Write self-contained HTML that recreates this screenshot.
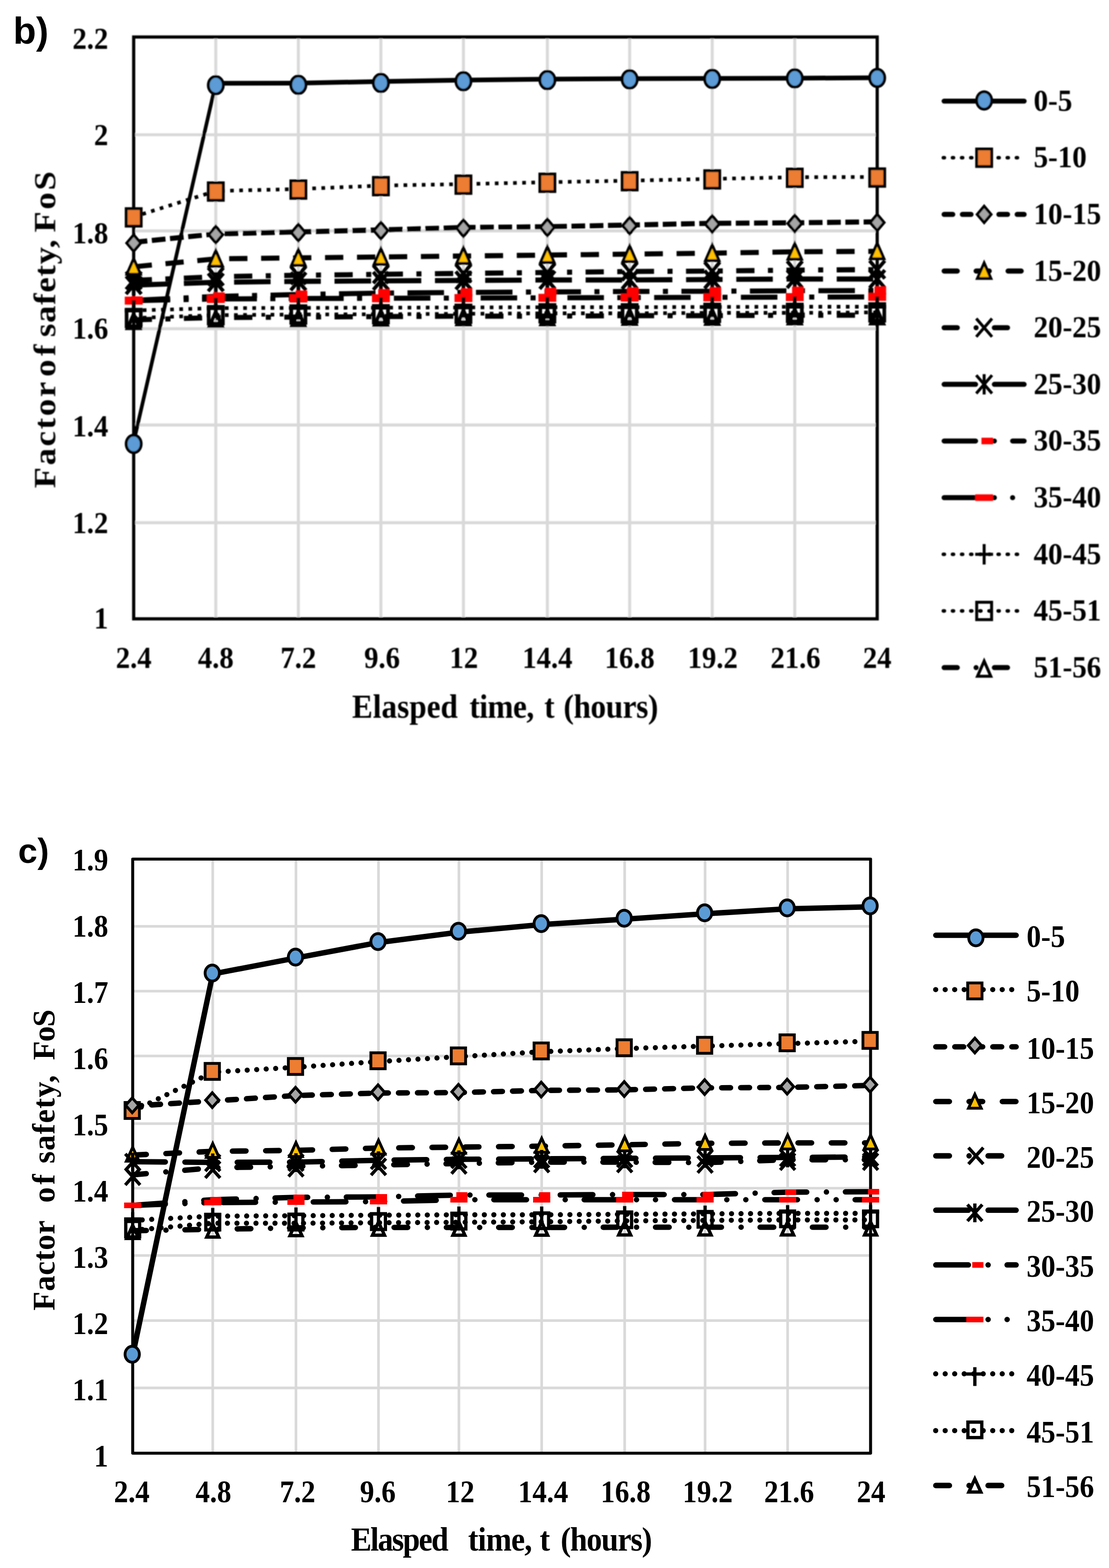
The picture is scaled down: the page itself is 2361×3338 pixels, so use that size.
<!DOCTYPE html>
<html lang="en"><head><meta charset="utf-8"><title>Factor of safety vs elapsed time</title>
<style>html,body{margin:0;padding:0;background:#fff}body{width:2361px;height:3338px;overflow:hidden}svg{display:block}</style>
</head><body>
<svg width="2361" height="3338" viewBox="0 0 2361 3338">
<defs><filter id="soft" x="-2%" y="-2%" width="104%" height="104%"><feGaussianBlur stdDeviation="1.1"/></filter></defs>
<rect width="2361" height="3338" fill="#fff"/>
<text transform="translate(28 92.5)" font-family="'Liberation Sans',sans-serif" font-weight="bold" font-size="80" text-anchor="start">b)</text>
<g id="chart-b" filter="url(#soft)">
<line x1="284.6" y1="286.9" x2="1867.5" y2="286.9" stroke="#d9d9d9" stroke-width="6.4"/>
<line x1="284.6" y1="491.5" x2="1867.5" y2="491.5" stroke="#d9d9d9" stroke-width="6.4"/>
<line x1="284.6" y1="699.7" x2="1867.5" y2="699.7" stroke="#d9d9d9" stroke-width="6.4"/>
<line x1="284.6" y1="904.7" x2="1867.5" y2="904.7" stroke="#d9d9d9" stroke-width="6.4"/>
<line x1="284.6" y1="1112.8" x2="1867.5" y2="1112.8" stroke="#d9d9d9" stroke-width="6.4"/>
<line x1="459.4" y1="78.8" x2="459.4" y2="1317.4" stroke="#d9d9d9" stroke-width="6.4"/>
<line x1="635.2" y1="78.8" x2="635.2" y2="1317.4" stroke="#d9d9d9" stroke-width="6.4"/>
<line x1="810.9" y1="78.8" x2="810.9" y2="1317.4" stroke="#d9d9d9" stroke-width="6.4"/>
<line x1="986.6" y1="78.8" x2="986.6" y2="1317.4" stroke="#d9d9d9" stroke-width="6.4"/>
<line x1="1165.3" y1="78.8" x2="1165.3" y2="1317.4" stroke="#d9d9d9" stroke-width="6.4"/>
<line x1="1340.5" y1="78.8" x2="1340.5" y2="1317.4" stroke="#d9d9d9" stroke-width="6.4"/>
<line x1="1516.3" y1="78.8" x2="1516.3" y2="1317.4" stroke="#d9d9d9" stroke-width="6.4"/>
<line x1="1692" y1="78.8" x2="1692" y2="1317.4" stroke="#d9d9d9" stroke-width="6.4"/>
<rect x="284.6" y="78.8" width="1582.9" height="1238.6" fill="none" stroke="#000" stroke-width="6.8" stroke-linejoin="miter"/>
<text transform="translate(230.5 103.8) scale(1 1.08)" font-family="'Liberation Serif',serif" font-weight="bold" font-size="61" text-anchor="end">2.2</text>
<text transform="translate(230.5 308.9) scale(1 1.08)" font-family="'Liberation Serif',serif" font-weight="bold" font-size="61" text-anchor="end">2</text>
<text transform="translate(230.5 517.5) scale(1 1.08)" font-family="'Liberation Serif',serif" font-weight="bold" font-size="61" text-anchor="end">1.8</text>
<text transform="translate(230.5 721.2) scale(1 1.08)" font-family="'Liberation Serif',serif" font-weight="bold" font-size="61" text-anchor="end">1.6</text>
<text transform="translate(230.5 929.2) scale(1 1.08)" font-family="'Liberation Serif',serif" font-weight="bold" font-size="61" text-anchor="end">1.4</text>
<text transform="translate(230.5 1134.8) scale(1 1.08)" font-family="'Liberation Serif',serif" font-weight="bold" font-size="61" text-anchor="end">1.2</text>
<text transform="translate(230.5 1338.4) scale(1 1.08)" font-family="'Liberation Serif',serif" font-weight="bold" font-size="61" text-anchor="end">1</text>
<text transform="translate(284.6 1422) scale(1 1.08)" font-family="'Liberation Serif',serif" font-weight="bold" font-size="61" text-anchor="middle">2.4</text>
<text transform="translate(459.4 1422) scale(1 1.08)" font-family="'Liberation Serif',serif" font-weight="bold" font-size="61" text-anchor="middle">4.8</text>
<text transform="translate(635.2 1422) scale(1 1.08)" font-family="'Liberation Serif',serif" font-weight="bold" font-size="61" text-anchor="middle">7.2</text>
<text transform="translate(813.4 1422) scale(1 1.08)" font-family="'Liberation Serif',serif" font-weight="bold" font-size="61" text-anchor="middle">9.6</text>
<text transform="translate(987.6 1422) scale(1 1.08)" font-family="'Liberation Serif',serif" font-weight="bold" font-size="61" text-anchor="middle">12</text>
<text transform="translate(1165.3 1422) scale(1 1.08)" font-family="'Liberation Serif',serif" font-weight="bold" font-size="61" text-anchor="middle">14.4</text>
<text transform="translate(1340.5 1422) scale(1 1.08)" font-family="'Liberation Serif',serif" font-weight="bold" font-size="61" text-anchor="middle">16.8</text>
<text transform="translate(1517.3 1422) scale(1 1.08)" font-family="'Liberation Serif',serif" font-weight="bold" font-size="61" text-anchor="middle">19.2</text>
<text transform="translate(1693.5 1422) scale(1 1.08)" font-family="'Liberation Serif',serif" font-weight="bold" font-size="61" text-anchor="middle">21.6</text>
<text transform="translate(1867.5 1422) scale(1 1.08)" font-family="'Liberation Serif',serif" font-weight="bold" font-size="61" text-anchor="middle">24</text>
<text transform="translate(0 1528) scale(1 1.1)" font-family="'Liberation Serif',serif" font-weight="bold" font-size="66"><tspan x="749.4" letter-spacing="0.28">Elasped</tspan> <tspan x="999.4" letter-spacing="-0.8">time,</tspan> <tspan x="1158.66">t</tspan> <tspan x="1199.8" letter-spacing="-0.59">(hours)</tspan></text>
<text transform="translate(117.5 0) rotate(-90) scale(1.1 1)" font-family="'Liberation Serif',serif" font-weight="bold" font-size="66.5"><tspan x="-944.73" letter-spacing="3.5">Factor</tspan> <tspan x="-729.18" letter-spacing="6.94">of</tspan> <tspan x="-652.27" letter-spacing="1.58">safety,</tspan> <tspan x="-449.82" letter-spacing="3.8">FoS</tspan></text>
<line x1="284.6" y1="941" x2="459.4" y2="177.3" stroke="#000" stroke-width="7.8" stroke-linecap="round"/>
<polyline points="459.4,177.3 635.2,177 810.9,173.5 986.6,170.5 1165.3,168.5 1340.5,167.5 1516.3,167 1692,166.5 1867.5,165.5" fill="none" stroke="#000" stroke-width="10" stroke-linecap="butt" stroke-linejoin="round"/>
<ellipse cx="284.6" cy="945" rx="16" ry="18.65" fill="#5b9bd5" stroke="#000" stroke-width="6"/>
<ellipse cx="459.4" cy="181.3" rx="16" ry="18.65" fill="#5b9bd5" stroke="#000" stroke-width="6"/>
<ellipse cx="635.2" cy="180.5" rx="16" ry="18.65" fill="#5b9bd5" stroke="#000" stroke-width="6"/>
<ellipse cx="810.9" cy="176.5" rx="16" ry="18.65" fill="#5b9bd5" stroke="#000" stroke-width="6"/>
<ellipse cx="986.6" cy="173" rx="16" ry="18.65" fill="#5b9bd5" stroke="#000" stroke-width="6"/>
<ellipse cx="1165.3" cy="170.5" rx="16" ry="18.65" fill="#5b9bd5" stroke="#000" stroke-width="6"/>
<ellipse cx="1340.5" cy="169" rx="16" ry="18.65" fill="#5b9bd5" stroke="#000" stroke-width="6"/>
<ellipse cx="1516.3" cy="168" rx="16" ry="18.65" fill="#5b9bd5" stroke="#000" stroke-width="6"/>
<ellipse cx="1692" cy="166.8" rx="16" ry="18.65" fill="#5b9bd5" stroke="#000" stroke-width="6"/>
<ellipse cx="1867.5" cy="165.8" rx="16" ry="18.65" fill="#5b9bd5" stroke="#000" stroke-width="6"/>
<polyline points="284.6,461.6 459.4,406.6 635.2,402.4 810.9,395.1 986.6,391.9 1165.3,387.9 1340.5,384.6 1516.3,380.8 1692,377.3 1867.5,376.8" fill="none" stroke="#000" stroke-width="7.8" stroke-linecap="butt" stroke-linejoin="round" stroke-dasharray="7.8 11.64"/>
<rect x="268.6" y="444.15" width="32" height="37.3" fill="#ed7d31" stroke="#000" stroke-width="6"/>
<rect x="443.4" y="389.15" width="32" height="37.3" fill="#ed7d31" stroke="#000" stroke-width="6"/>
<rect x="619.2" y="384.95" width="32" height="37.3" fill="#ed7d31" stroke="#000" stroke-width="6"/>
<rect x="794.9" y="377.65" width="32" height="37.3" fill="#ed7d31" stroke="#000" stroke-width="6"/>
<rect x="970.6" y="374.45" width="32" height="37.3" fill="#ed7d31" stroke="#000" stroke-width="6"/>
<rect x="1149.3" y="370.45" width="32" height="37.3" fill="#ed7d31" stroke="#000" stroke-width="6"/>
<rect x="1324.5" y="367.15" width="32" height="37.3" fill="#ed7d31" stroke="#000" stroke-width="6"/>
<rect x="1500.3" y="363.35" width="32" height="37.3" fill="#ed7d31" stroke="#000" stroke-width="6"/>
<rect x="1676" y="359.85" width="32" height="37.3" fill="#ed7d31" stroke="#000" stroke-width="6"/>
<rect x="1851.5" y="359.35" width="32" height="37.3" fill="#ed7d31" stroke="#000" stroke-width="6"/>
<polyline points="284.6,515.9 459.4,497.9 635.2,493.7 810.9,489.5 986.6,484.3 1165.3,482.7 1340.5,479 1516.3,475.4 1692,474.3 1867.5,472.2" fill="none" stroke="#000" stroke-width="10.8" stroke-linecap="butt" stroke-linejoin="round" stroke-dasharray="29.16 9.72"/>
<polygon points="284.6,499.95 299.4,517.4 284.6,534.85 269.8,517.4" fill="#a5a5a5" stroke="#000" stroke-width="6" stroke-linejoin="miter"/>
<polygon points="459.4,481.95 474.2,499.4 459.4,516.85 444.6,499.4" fill="#a5a5a5" stroke="#000" stroke-width="6" stroke-linejoin="miter"/>
<polygon points="635.2,477.75 650,495.2 635.2,512.65 620.4,495.2" fill="#a5a5a5" stroke="#000" stroke-width="6" stroke-linejoin="miter"/>
<polygon points="810.9,473.55 825.7,491 810.9,508.45 796.1,491" fill="#a5a5a5" stroke="#000" stroke-width="6" stroke-linejoin="miter"/>
<polygon points="986.6,468.35 1001.4,485.8 986.6,503.25 971.8,485.8" fill="#a5a5a5" stroke="#000" stroke-width="6" stroke-linejoin="miter"/>
<polygon points="1165.3,466.75 1180.1,484.2 1165.3,501.65 1150.5,484.2" fill="#a5a5a5" stroke="#000" stroke-width="6" stroke-linejoin="miter"/>
<polygon points="1340.5,463.05 1355.3,480.5 1340.5,497.95 1325.7,480.5" fill="#a5a5a5" stroke="#000" stroke-width="6" stroke-linejoin="miter"/>
<polygon points="1516.3,459.45 1531.1,476.9 1516.3,494.35 1501.5,476.9" fill="#a5a5a5" stroke="#000" stroke-width="6" stroke-linejoin="miter"/>
<polygon points="1692,458.35 1706.8,475.8 1692,493.25 1677.2,475.8" fill="#a5a5a5" stroke="#000" stroke-width="6" stroke-linejoin="miter"/>
<polygon points="1867.5,456.25 1882.3,473.7 1867.5,491.15 1852.7,473.7" fill="#a5a5a5" stroke="#000" stroke-width="6" stroke-linejoin="miter"/>
<polyline points="284.6,568 459.4,551 635.2,549 810.9,547 986.6,545 1165.3,543 1340.5,541 1516.3,539 1692,536 1867.5,535" fill="none" stroke="#000" stroke-width="10.8" stroke-linecap="butt" stroke-linejoin="round" stroke-dasharray="38.88 29.16"/>
<polygon points="284.6,550.82 299.01,583.65 270.19,583.65" fill="#ffc000" stroke="#000" stroke-width="6" stroke-linejoin="miter" stroke-miterlimit="10"/>
<polygon points="459.4,533.82 473.81,566.65 444.99,566.65" fill="#ffc000" stroke="#000" stroke-width="6" stroke-linejoin="miter" stroke-miterlimit="10"/>
<polygon points="635.2,531.82 649.61,564.65 620.79,564.65" fill="#ffc000" stroke="#000" stroke-width="6" stroke-linejoin="miter" stroke-miterlimit="10"/>
<polygon points="810.9,529.82 825.31,562.65 796.49,562.65" fill="#ffc000" stroke="#000" stroke-width="6" stroke-linejoin="miter" stroke-miterlimit="10"/>
<polygon points="986.6,527.82 1001.01,560.65 972.19,560.65" fill="#ffc000" stroke="#000" stroke-width="6" stroke-linejoin="miter" stroke-miterlimit="10"/>
<polygon points="1165.3,525.82 1179.71,558.65 1150.89,558.65" fill="#ffc000" stroke="#000" stroke-width="6" stroke-linejoin="miter" stroke-miterlimit="10"/>
<polygon points="1340.5,523.82 1354.91,556.65 1326.09,556.65" fill="#ffc000" stroke="#000" stroke-width="6" stroke-linejoin="miter" stroke-miterlimit="10"/>
<polygon points="1516.3,521.82 1530.71,554.65 1501.89,554.65" fill="#ffc000" stroke="#000" stroke-width="6" stroke-linejoin="miter" stroke-miterlimit="10"/>
<polygon points="1692,518.82 1706.41,551.65 1677.59,551.65" fill="#ffc000" stroke="#000" stroke-width="6" stroke-linejoin="miter" stroke-miterlimit="10"/>
<polygon points="1867.5,517.82 1881.91,550.65 1853.09,550.65" fill="#ffc000" stroke="#000" stroke-width="6" stroke-linejoin="miter" stroke-miterlimit="10"/>
<polyline points="284.6,597 459.4,589 635.2,586 810.9,584 986.6,582 1165.3,580 1340.5,578 1516.3,577 1692,575 1867.5,574" fill="none" stroke="#000" stroke-width="10.8" stroke-linecap="butt" stroke-linejoin="round" stroke-dasharray="38.88 28.62 10.8 28.62"/>
<path d="M268.33 578.08L300.87 615.92M268.33 615.92L300.87 578.08" fill="none" stroke="#000" stroke-width="7.8" stroke-linecap="butt"/>
<path d="M443.13 570.08L475.67 607.92M443.13 607.92L475.67 570.08" fill="none" stroke="#000" stroke-width="7.8" stroke-linecap="butt"/>
<path d="M618.93 567.08L651.47 604.92M618.93 604.92L651.47 567.08" fill="none" stroke="#000" stroke-width="7.8" stroke-linecap="butt"/>
<path d="M794.63 565.08L827.17 602.92M794.63 602.92L827.17 565.08" fill="none" stroke="#000" stroke-width="7.8" stroke-linecap="butt"/>
<path d="M970.33 563.08L1002.87 600.92M970.33 600.92L1002.87 563.08" fill="none" stroke="#000" stroke-width="7.8" stroke-linecap="butt"/>
<path d="M1149.03 561.08L1181.57 598.92M1149.03 598.92L1181.57 561.08" fill="none" stroke="#000" stroke-width="7.8" stroke-linecap="butt"/>
<path d="M1324.23 559.08L1356.77 596.92M1324.23 596.92L1356.77 559.08" fill="none" stroke="#000" stroke-width="7.8" stroke-linecap="butt"/>
<path d="M1500.03 558.08L1532.57 595.92M1500.03 595.92L1532.57 558.08" fill="none" stroke="#000" stroke-width="7.8" stroke-linecap="butt"/>
<path d="M1675.73 556.08L1708.27 593.92M1675.73 593.92L1708.27 556.08" fill="none" stroke="#000" stroke-width="7.8" stroke-linecap="butt"/>
<path d="M1851.23 555.08L1883.77 592.92M1851.23 592.92L1883.77 555.08" fill="none" stroke="#000" stroke-width="7.8" stroke-linecap="butt"/>
<polyline points="284.6,607 459.4,601 635.2,599 810.9,598 986.6,597 1165.3,596 1340.5,596 1516.3,595 1692,594 1867.5,594" fill="none" stroke="#000" stroke-width="10.8" stroke-linecap="butt" stroke-linejoin="round" stroke-dasharray="77.76 29.16"/>
<path d="M268.33 588.08L300.87 625.92M268.33 625.92L300.87 588.08M284.6 585.35L284.6 628.65" fill="none" stroke="#000" stroke-width="7.8" stroke-linecap="butt"/>
<path d="M443.13 582.08L475.67 619.92M443.13 619.92L475.67 582.08M459.4 579.35L459.4 622.65" fill="none" stroke="#000" stroke-width="7.8" stroke-linecap="butt"/>
<path d="M618.93 580.08L651.47 617.92M618.93 617.92L651.47 580.08M635.2 577.35L635.2 620.65" fill="none" stroke="#000" stroke-width="7.8" stroke-linecap="butt"/>
<path d="M794.63 579.08L827.17 616.92M794.63 616.92L827.17 579.08M810.9 576.35L810.9 619.65" fill="none" stroke="#000" stroke-width="7.8" stroke-linecap="butt"/>
<path d="M970.33 578.08L1002.87 615.92M970.33 615.92L1002.87 578.08M986.6 575.35L986.6 618.65" fill="none" stroke="#000" stroke-width="7.8" stroke-linecap="butt"/>
<path d="M1149.03 577.08L1181.57 614.92M1149.03 614.92L1181.57 577.08M1165.3 574.35L1165.3 617.65" fill="none" stroke="#000" stroke-width="7.8" stroke-linecap="butt"/>
<path d="M1324.23 577.08L1356.77 614.92M1324.23 614.92L1356.77 577.08M1340.5 574.35L1340.5 617.65" fill="none" stroke="#000" stroke-width="7.8" stroke-linecap="butt"/>
<path d="M1500.03 576.08L1532.57 613.92M1500.03 613.92L1532.57 576.08M1516.3 573.35L1516.3 616.65" fill="none" stroke="#000" stroke-width="7.8" stroke-linecap="butt"/>
<path d="M1675.73 575.08L1708.27 612.92M1675.73 612.92L1708.27 575.08M1692 572.35L1692 615.65" fill="none" stroke="#000" stroke-width="7.8" stroke-linecap="butt"/>
<path d="M1851.23 575.08L1883.77 612.92M1851.23 612.92L1883.77 575.08M1867.5 572.35L1867.5 615.65" fill="none" stroke="#000" stroke-width="7.8" stroke-linecap="butt"/>
<polyline points="284.6,639.5 459.4,631 635.2,627 810.9,624 986.6,622.5 1165.3,621.5 1340.5,620.5 1516.3,620 1692,619 1867.5,618.5" fill="none" stroke="#000" stroke-width="10.8" stroke-linecap="butt" stroke-linejoin="round" stroke-dasharray="77.76 28.62 10.8 28.62"/>
<rect x="278.9" y="631" width="24.7" height="17" fill="#ff0000"/>
<rect x="453.7" y="622.5" width="24.7" height="17" fill="#ff0000"/>
<rect x="629.5" y="618.5" width="24.7" height="17" fill="#ff0000"/>
<rect x="805.2" y="615.5" width="24.7" height="17" fill="#ff0000"/>
<rect x="980.9" y="614" width="24.7" height="17" fill="#ff0000"/>
<rect x="1159.6" y="613" width="24.7" height="17" fill="#ff0000"/>
<rect x="1334.8" y="612" width="24.7" height="17" fill="#ff0000"/>
<rect x="1510.6" y="611.5" width="24.7" height="17" fill="#ff0000"/>
<rect x="1686.3" y="610.5" width="24.7" height="17" fill="#ff0000"/>
<rect x="1861.8" y="610" width="24.7" height="17" fill="#ff0000"/>
<polyline points="284.6,640 459.4,636.5 635.2,635.5 810.9,635 986.6,634.5 1165.3,634 1340.5,633.5 1516.3,633 1692,632.5 1867.5,632" fill="none" stroke="#000" stroke-width="10.8" stroke-linecap="butt" stroke-linejoin="round" stroke-dasharray="77.76 28.44 10.8 28.44 10.8 28.44"/>
<rect x="265.6" y="631.5" width="38" height="17" fill="#ff0000"/>
<rect x="440.4" y="628" width="38" height="17" fill="#ff0000"/>
<rect x="616.2" y="627" width="38" height="17" fill="#ff0000"/>
<rect x="791.9" y="626.5" width="38" height="17" fill="#ff0000"/>
<rect x="967.6" y="626" width="38" height="17" fill="#ff0000"/>
<rect x="1146.3" y="625.5" width="38" height="17" fill="#ff0000"/>
<rect x="1321.5" y="625" width="38" height="17" fill="#ff0000"/>
<rect x="1497.3" y="624.5" width="38" height="17" fill="#ff0000"/>
<rect x="1673" y="624" width="38" height="17" fill="#ff0000"/>
<rect x="1848.5" y="623.5" width="38" height="17" fill="#ff0000"/>
<polyline points="284.6,661 459.4,656 635.2,655.5 810.9,655 986.6,654.5 1165.3,654 1340.5,654 1516.3,653.5 1692,653 1867.5,653" fill="none" stroke="#000" stroke-width="7.8" stroke-linecap="butt" stroke-linejoin="round" stroke-dasharray="7.8 11.64"/>
<path d="M265.6 661L303.6 661M284.6 639.35L284.6 682.65" fill="none" stroke="#000" stroke-width="7.8"/>
<path d="M440.4 656L478.4 656M459.4 634.35L459.4 677.65" fill="none" stroke="#000" stroke-width="7.8"/>
<path d="M616.2 655.5L654.2 655.5M635.2 633.85L635.2 677.15" fill="none" stroke="#000" stroke-width="7.8"/>
<path d="M791.9 655L829.9 655M810.9 633.35L810.9 676.65" fill="none" stroke="#000" stroke-width="7.8"/>
<path d="M967.6 654.5L1005.6 654.5M986.6 632.85L986.6 676.15" fill="none" stroke="#000" stroke-width="7.8"/>
<path d="M1146.3 654L1184.3 654M1165.3 632.35L1165.3 675.65" fill="none" stroke="#000" stroke-width="7.8"/>
<path d="M1321.5 654L1359.5 654M1340.5 632.35L1340.5 675.65" fill="none" stroke="#000" stroke-width="7.8"/>
<path d="M1497.3 653.5L1535.3 653.5M1516.3 631.85L1516.3 675.15" fill="none" stroke="#000" stroke-width="7.8"/>
<path d="M1673 653L1711 653M1692 631.35L1692 674.65" fill="none" stroke="#000" stroke-width="7.8"/>
<path d="M1848.5 653L1886.5 653M1867.5 631.35L1867.5 674.65" fill="none" stroke="#000" stroke-width="7.8"/>
<polyline points="284.6,677 459.4,671 635.2,669.5 810.9,669 986.6,668 1165.3,667 1340.5,667 1516.3,666 1692,666 1867.5,665" fill="none" stroke="#000" stroke-width="7.8" stroke-linecap="butt" stroke-linejoin="round" stroke-dasharray="7.8 11.64"/>
<rect x="269.5" y="659.25" width="30.2" height="35.5" fill="none" stroke="#000" stroke-width="7.8"/>
<rect x="444.3" y="653.25" width="30.2" height="35.5" fill="none" stroke="#000" stroke-width="7.8"/>
<rect x="620.1" y="651.75" width="30.2" height="35.5" fill="none" stroke="#000" stroke-width="7.8"/>
<rect x="795.8" y="651.25" width="30.2" height="35.5" fill="none" stroke="#000" stroke-width="7.8"/>
<rect x="971.5" y="650.25" width="30.2" height="35.5" fill="none" stroke="#000" stroke-width="7.8"/>
<rect x="1150.2" y="649.25" width="30.2" height="35.5" fill="none" stroke="#000" stroke-width="7.8"/>
<rect x="1325.4" y="649.25" width="30.2" height="35.5" fill="none" stroke="#000" stroke-width="7.8"/>
<rect x="1501.2" y="648.25" width="30.2" height="35.5" fill="none" stroke="#000" stroke-width="7.8"/>
<rect x="1676.9" y="648.25" width="30.2" height="35.5" fill="none" stroke="#000" stroke-width="7.8"/>
<rect x="1852.4" y="647.25" width="30.2" height="35.5" fill="none" stroke="#000" stroke-width="7.8"/>
<polyline points="284.6,681 459.4,676 635.2,675 810.9,674 986.6,673 1165.3,673 1340.5,672 1516.3,672 1692,671 1867.5,671" fill="none" stroke="#000" stroke-width="10.8" stroke-linecap="butt" stroke-linejoin="round" stroke-dasharray="38.88 28.62 10.8 28.62"/>
<polygon points="284.6,669.06 297.63,698.75 271.57,698.75" fill="none" stroke="#000" stroke-width="7.8" stroke-linejoin="miter" stroke-miterlimit="10"/>
<polygon points="459.4,664.06 472.43,693.75 446.37,693.75" fill="none" stroke="#000" stroke-width="7.8" stroke-linejoin="miter" stroke-miterlimit="10"/>
<polygon points="635.2,663.06 648.23,692.75 622.17,692.75" fill="none" stroke="#000" stroke-width="7.8" stroke-linejoin="miter" stroke-miterlimit="10"/>
<polygon points="810.9,662.06 823.93,691.75 797.87,691.75" fill="none" stroke="#000" stroke-width="7.8" stroke-linejoin="miter" stroke-miterlimit="10"/>
<polygon points="986.6,661.06 999.63,690.75 973.57,690.75" fill="none" stroke="#000" stroke-width="7.8" stroke-linejoin="miter" stroke-miterlimit="10"/>
<polygon points="1165.3,661.06 1178.33,690.75 1152.27,690.75" fill="none" stroke="#000" stroke-width="7.8" stroke-linejoin="miter" stroke-miterlimit="10"/>
<polygon points="1340.5,660.06 1353.53,689.75 1327.47,689.75" fill="none" stroke="#000" stroke-width="7.8" stroke-linejoin="miter" stroke-miterlimit="10"/>
<polygon points="1516.3,660.06 1529.33,689.75 1503.27,689.75" fill="none" stroke="#000" stroke-width="7.8" stroke-linejoin="miter" stroke-miterlimit="10"/>
<polygon points="1692,659.06 1705.03,688.75 1678.97,688.75" fill="none" stroke="#000" stroke-width="7.8" stroke-linejoin="miter" stroke-miterlimit="10"/>
<polygon points="1867.5,659.06 1880.53,688.75 1854.47,688.75" fill="none" stroke="#000" stroke-width="7.8" stroke-linejoin="miter" stroke-miterlimit="10"/>
<line x1="2009.85" y1="215.2" x2="2180.45" y2="215.2" stroke="#000" stroke-width="10.5" stroke-linecap="round"/>
<ellipse cx="2095.2" cy="213.8" rx="16" ry="18.65" fill="#5b9bd5" stroke="#000" stroke-width="6"/>
<text transform="translate(2200.5 235.7) scale(1 1.07)" font-family="'Liberation Serif',serif" font-weight="bold" font-size="61.7" text-anchor="start">0-5</text>
<line x1="2008.4" y1="335.8" x2="2181.9" y2="335.8" stroke="#000" stroke-width="7.6" stroke-linecap="round" stroke-dasharray="2.12 17.32"/>
<rect x="2079.2" y="317.15" width="32" height="37.3" fill="#ed7d31" stroke="#000" stroke-width="6"/>
<text transform="translate(2200.5 356.3) scale(1 1.07)" font-family="'Liberation Serif',serif" font-weight="bold" font-size="61.7" text-anchor="start">5-10</text>
<line x1="2010" y1="456.4" x2="2180.3" y2="456.4" stroke="#000" stroke-width="10.8" stroke-linecap="round" stroke-dasharray="18.36 20.52"/>
<polygon points="2095.2,438.95 2110,456.4 2095.2,473.85 2080.4,456.4" fill="#a5a5a5" stroke="#000" stroke-width="6" stroke-linejoin="miter"/>
<text transform="translate(2200.5 476.9) scale(1 1.07)" font-family="'Liberation Serif',serif" font-weight="bold" font-size="61.7" text-anchor="start">10-15</text>
<line x1="2010" y1="577" x2="2180.3" y2="577" stroke="#000" stroke-width="10.8" stroke-linecap="round" stroke-dasharray="28.08 39.96"/>
<polygon points="2095.2,559.82 2109.61,592.65 2080.79,592.65" fill="#ffc000" stroke="#000" stroke-width="6" stroke-linejoin="miter" stroke-miterlimit="10"/>
<text transform="translate(2200.5 597.5) scale(1 1.07)" font-family="'Liberation Serif',serif" font-weight="bold" font-size="61.7" text-anchor="start">15-20</text>
<line x1="2010" y1="697.6" x2="2180.3" y2="697.6" stroke="#000" stroke-width="10.8" stroke-linecap="round" stroke-dasharray="28.08 39.96 0.01 38.87"/>
<path d="M2078.4 678.15L2111.99 717.04M2078.4 717.04L2111.99 678.15" fill="none" stroke="#000" stroke-width="6.3" stroke-linecap="butt"/>
<text transform="translate(2200.5 718.1) scale(1 1.07)" font-family="'Liberation Serif',serif" font-weight="bold" font-size="61.7" text-anchor="start">20-25</text>
<line x1="2010" y1="818.2" x2="2180.3" y2="818.2" stroke="#000" stroke-width="10.8" stroke-linecap="round" stroke-dasharray="66.96 39.96"/>
<path d="M2078.4 798.76L2111.99 837.64M2078.4 837.64L2111.99 798.76M2095.2 796.55L2095.2 839.85" fill="none" stroke="#000" stroke-width="6.3" stroke-linecap="butt"/>
<text transform="translate(2200.5 838.7) scale(1 1.07)" font-family="'Liberation Serif',serif" font-weight="bold" font-size="61.7" text-anchor="start">25-30</text>
<line x1="2010" y1="938.8" x2="2180.3" y2="938.8" stroke="#000" stroke-width="10.8" stroke-linecap="round" stroke-dasharray="66.96 39.96 0.01 38.87"/>
<rect x="2089.5" y="931.8" width="24.7" height="14" fill="#ff0000"/>
<text transform="translate(2200.5 959.3) scale(1 1.07)" font-family="'Liberation Serif',serif" font-weight="bold" font-size="61.7" text-anchor="start">30-35</text>
<line x1="2010" y1="1059.4" x2="2180.3" y2="1059.4" stroke="#000" stroke-width="10.8" stroke-linecap="round" stroke-dasharray="66.96 39.96 0.01 38.87 0.01 38.87"/>
<rect x="2076.2" y="1052.4" width="38" height="14" fill="#ff0000"/>
<text transform="translate(2200.5 1079.9) scale(1 1.07)" font-family="'Liberation Serif',serif" font-weight="bold" font-size="61.7" text-anchor="start">35-40</text>
<line x1="2008.4" y1="1180" x2="2181.9" y2="1180" stroke="#000" stroke-width="7.6" stroke-linecap="round" stroke-dasharray="2.12 17.32"/>
<path d="M2076.2 1180L2114.2 1180M2095.2 1158.35L2095.2 1201.65" fill="none" stroke="#000" stroke-width="6.3"/>
<text transform="translate(2200.5 1200.5) scale(1 1.07)" font-family="'Liberation Serif',serif" font-weight="bold" font-size="61.7" text-anchor="start">40-45</text>
<line x1="2008.4" y1="1300.6" x2="2181.9" y2="1300.6" stroke="#000" stroke-width="7.6" stroke-linecap="round" stroke-dasharray="2.12 17.32"/>
<rect x="2079.35" y="1282.1" width="31.7" height="37" fill="none" stroke="#000" stroke-width="6.3"/>
<text transform="translate(2200.5 1321.1) scale(1 1.07)" font-family="'Liberation Serif',serif" font-weight="bold" font-size="61.7" text-anchor="start">45-51</text>
<line x1="2010" y1="1421.2" x2="2180.3" y2="1421.2" stroke="#000" stroke-width="10.8" stroke-linecap="round" stroke-dasharray="28.08 39.96 0.01 38.87"/>
<polygon points="2095.2,1407.39 2109.38,1439.7 2081.02,1439.7" fill="none" stroke="#000" stroke-width="6.3" stroke-linejoin="miter" stroke-miterlimit="10"/>
<text transform="translate(2200.5 1441.7) scale(1 1.07)" font-family="'Liberation Serif',serif" font-weight="bold" font-size="61.7" text-anchor="start">51-56</text>
</g>
<text transform="translate(38.6 1837.4)" font-family="'Liberation Sans',sans-serif" font-weight="bold" font-size="74" text-anchor="start">c)</text>
<g id="chart-c">
<line x1="282.5" y1="1972" x2="1853.4" y2="1972" stroke="#d9d9d9" stroke-width="5.6"/>
<line x1="282.5" y1="2110" x2="1853.4" y2="2110" stroke="#d9d9d9" stroke-width="5.6"/>
<line x1="282.5" y1="2248" x2="1853.4" y2="2248" stroke="#d9d9d9" stroke-width="5.6"/>
<line x1="282.5" y1="2392" x2="1853.4" y2="2392" stroke="#d9d9d9" stroke-width="5.6"/>
<line x1="282.5" y1="2529.5" x2="1853.4" y2="2529.5" stroke="#d9d9d9" stroke-width="5.6"/>
<line x1="282.5" y1="2672.8" x2="1853.4" y2="2672.8" stroke="#d9d9d9" stroke-width="5.6"/>
<line x1="282.5" y1="2811.3" x2="1853.4" y2="2811.3" stroke="#d9d9d9" stroke-width="5.6"/>
<line x1="282.5" y1="2954.6" x2="1853.4" y2="2954.6" stroke="#d9d9d9" stroke-width="5.6"/>
<line x1="452.9" y1="1828.8" x2="452.9" y2="3093.6" stroke="#d9d9d9" stroke-width="5.6"/>
<line x1="630.1" y1="1828.8" x2="630.1" y2="3093.6" stroke="#d9d9d9" stroke-width="5.6"/>
<line x1="805.8" y1="1828.8" x2="805.8" y2="3093.6" stroke="#d9d9d9" stroke-width="5.6"/>
<line x1="977" y1="1828.8" x2="977" y2="3093.6" stroke="#d9d9d9" stroke-width="5.6"/>
<line x1="1153.2" y1="1828.8" x2="1153.2" y2="3093.6" stroke="#d9d9d9" stroke-width="5.6"/>
<line x1="1329.9" y1="1828.8" x2="1329.9" y2="3093.6" stroke="#d9d9d9" stroke-width="5.6"/>
<line x1="1501.1" y1="1828.8" x2="1501.1" y2="3093.6" stroke="#d9d9d9" stroke-width="5.6"/>
<line x1="1676.8" y1="1828.8" x2="1676.8" y2="3093.6" stroke="#d9d9d9" stroke-width="5.6"/>
<rect x="282.5" y="1828.8" width="1570.9" height="1264.8" fill="none" stroke="#000" stroke-width="6.3" stroke-linejoin="round"/>
<text transform="translate(230.5 1853.2) scale(1 1.12)" font-family="'Liberation Serif',serif" font-weight="bold" font-size="61" text-anchor="end">1.9</text>
<text transform="translate(230.5 1994.2) scale(1 1.12)" font-family="'Liberation Serif',serif" font-weight="bold" font-size="61" text-anchor="end">1.8</text>
<text transform="translate(230.5 2135.2) scale(1 1.12)" font-family="'Liberation Serif',serif" font-weight="bold" font-size="61" text-anchor="end">1.7</text>
<text transform="translate(230.5 2276.2) scale(1 1.12)" font-family="'Liberation Serif',serif" font-weight="bold" font-size="61" text-anchor="end">1.6</text>
<text transform="translate(230.5 2417.2) scale(1 1.12)" font-family="'Liberation Serif',serif" font-weight="bold" font-size="61" text-anchor="end">1.5</text>
<text transform="translate(230.5 2558.2) scale(1 1.12)" font-family="'Liberation Serif',serif" font-weight="bold" font-size="61" text-anchor="end">1.4</text>
<text transform="translate(230.5 2699.2) scale(1 1.12)" font-family="'Liberation Serif',serif" font-weight="bold" font-size="61" text-anchor="end">1.3</text>
<text transform="translate(230.5 2840.2) scale(1 1.12)" font-family="'Liberation Serif',serif" font-weight="bold" font-size="61" text-anchor="end">1.2</text>
<text transform="translate(230.5 2981.2) scale(1 1.12)" font-family="'Liberation Serif',serif" font-weight="bold" font-size="61" text-anchor="end">1.1</text>
<text transform="translate(230.5 3122.2) scale(1 1.12)" font-family="'Liberation Serif',serif" font-weight="bold" font-size="61" text-anchor="end">1</text>
<text transform="translate(280.5 3198) scale(1 1.12)" font-family="'Liberation Serif',serif" font-weight="bold" font-size="61" text-anchor="middle">2.4</text>
<text transform="translate(454.3 3198) scale(1 1.12)" font-family="'Liberation Serif',serif" font-weight="bold" font-size="61" text-anchor="middle">4.8</text>
<text transform="translate(633.5 3198) scale(1 1.12)" font-family="'Liberation Serif',serif" font-weight="bold" font-size="61" text-anchor="middle">7.2</text>
<text transform="translate(804.4 3198) scale(1 1.12)" font-family="'Liberation Serif',serif" font-weight="bold" font-size="61" text-anchor="middle">9.6</text>
<text transform="translate(979.8 3198) scale(1 1.12)" font-family="'Liberation Serif',serif" font-weight="bold" font-size="61" text-anchor="middle">12</text>
<text transform="translate(1156.4 3198) scale(1 1.12)" font-family="'Liberation Serif',serif" font-weight="bold" font-size="61" text-anchor="middle">14.4</text>
<text transform="translate(1332 3198) scale(1 1.12)" font-family="'Liberation Serif',serif" font-weight="bold" font-size="61" text-anchor="middle">16.8</text>
<text transform="translate(1506.6 3198) scale(1 1.12)" font-family="'Liberation Serif',serif" font-weight="bold" font-size="61" text-anchor="middle">19.2</text>
<text transform="translate(1680 3198) scale(1 1.12)" font-family="'Liberation Serif',serif" font-weight="bold" font-size="61" text-anchor="middle">21.6</text>
<text transform="translate(1854.6 3198) scale(1 1.12)" font-family="'Liberation Serif',serif" font-weight="bold" font-size="61" text-anchor="middle">24</text>
<text transform="translate(0 3300.5) scale(1 1.1)" font-family="'Liberation Serif',serif" font-weight="bold" font-size="66"><tspan x="747.2" letter-spacing="-2.66">Elasped</tspan> <tspan x="996.4" letter-spacing="-1.13">time,</tspan> <tspan x="1149.01">t</tspan> <tspan x="1193.4" letter-spacing="-1.69">(hours)</tspan></text>
<text transform="translate(116 0) rotate(-90) scale(1 1)" font-family="'Liberation Serif',serif" font-weight="bold" font-size="66.6"><tspan x="-2790" letter-spacing="0.68">Factor</tspan> <tspan x="-2560.6" letter-spacing="5.56">of</tspan> <tspan x="-2476.8" letter-spacing="1.48">safety,</tspan> <tspan x="-2256.8" letter-spacing="-1.61">FoS</tspan></text>
<polyline points="282.5,2885 452.9,2073.4 630.1,2039.4 805.8,2006.4 977,1984.4 1153.2,1968.2 1329.9,1956.7 1501.1,1945.2 1676.8,1934.7 1853.4,1930.5" fill="none" stroke="#000" stroke-width="11.6" stroke-linecap="round" stroke-linejoin="round"/>
<ellipse cx="281.5" cy="2883" rx="15.25" ry="17" fill="#5b9bd5" stroke="#000" stroke-width="6"/>
<ellipse cx="451.9" cy="2071.4" rx="15.25" ry="17" fill="#5b9bd5" stroke="#000" stroke-width="6"/>
<ellipse cx="629.1" cy="2037.4" rx="15.25" ry="17" fill="#5b9bd5" stroke="#000" stroke-width="6"/>
<ellipse cx="804.8" cy="2004.4" rx="15.25" ry="17" fill="#5b9bd5" stroke="#000" stroke-width="6"/>
<ellipse cx="976" cy="1982.4" rx="15.25" ry="17" fill="#5b9bd5" stroke="#000" stroke-width="6"/>
<ellipse cx="1152.2" cy="1966.2" rx="15.25" ry="17" fill="#5b9bd5" stroke="#000" stroke-width="6"/>
<ellipse cx="1328.9" cy="1954.7" rx="15.25" ry="17" fill="#5b9bd5" stroke="#000" stroke-width="6"/>
<ellipse cx="1500.1" cy="1943.2" rx="15.25" ry="17" fill="#5b9bd5" stroke="#000" stroke-width="6"/>
<ellipse cx="1675.8" cy="1932.7" rx="15.25" ry="17" fill="#5b9bd5" stroke="#000" stroke-width="6"/>
<ellipse cx="1852.4" cy="1928.5" rx="15.25" ry="17" fill="#5b9bd5" stroke="#000" stroke-width="6"/>
<polyline points="282.5,2365.7 452.9,2282.5 630.1,2272 805.8,2259.9 977,2249.5 1153.2,2239 1329.9,2232.2 1501.1,2227 1676.8,2221.7 1853.4,2216.5" fill="none" stroke="#000" stroke-width="11" stroke-linecap="round" stroke-linejoin="round" stroke-dasharray="0.01 20.23"/>
<rect x="266.25" y="2347" width="30.5" height="34" fill="#ed7d31" stroke="#000" stroke-width="6"/>
<rect x="436.65" y="2263.8" width="30.5" height="34" fill="#ed7d31" stroke="#000" stroke-width="6"/>
<rect x="613.85" y="2253.3" width="30.5" height="34" fill="#ed7d31" stroke="#000" stroke-width="6"/>
<rect x="789.55" y="2241.2" width="30.5" height="34" fill="#ed7d31" stroke="#000" stroke-width="6"/>
<rect x="960.75" y="2230.8" width="30.5" height="34" fill="#ed7d31" stroke="#000" stroke-width="6"/>
<rect x="1136.95" y="2220.3" width="30.5" height="34" fill="#ed7d31" stroke="#000" stroke-width="6"/>
<rect x="1313.65" y="2213.5" width="30.5" height="34" fill="#ed7d31" stroke="#000" stroke-width="6"/>
<rect x="1484.85" y="2208.3" width="30.5" height="34" fill="#ed7d31" stroke="#000" stroke-width="6"/>
<rect x="1660.55" y="2203" width="30.5" height="34" fill="#ed7d31" stroke="#000" stroke-width="6"/>
<rect x="1837.15" y="2197.8" width="30.5" height="34" fill="#ed7d31" stroke="#000" stroke-width="6"/>
<polyline points="282.5,2354.7 452.9,2343.7 630.1,2332.2 805.8,2326.9 977,2325.9 1153.2,2321.2 1329.9,2320.1 1501.1,2315.9 1676.8,2314.9 1853.4,2310.7" fill="none" stroke="#000" stroke-width="11.6" stroke-linecap="round" stroke-linejoin="round" stroke-dasharray="18.76 21.72"/>
<polygon points="281.5,2337.2 295.55,2353 281.5,2368.8 267.45,2353" fill="#a5a5a5" stroke="#000" stroke-width="6" stroke-linejoin="miter"/>
<polygon points="451.9,2326.2 465.95,2342 451.9,2357.8 437.85,2342" fill="#a5a5a5" stroke="#000" stroke-width="6" stroke-linejoin="miter"/>
<polygon points="629.1,2314.7 643.15,2330.5 629.1,2346.3 615.05,2330.5" fill="#a5a5a5" stroke="#000" stroke-width="6" stroke-linejoin="miter"/>
<polygon points="804.8,2309.4 818.85,2325.2 804.8,2341 790.75,2325.2" fill="#a5a5a5" stroke="#000" stroke-width="6" stroke-linejoin="miter"/>
<polygon points="976,2308.4 990.05,2324.2 976,2340 961.95,2324.2" fill="#a5a5a5" stroke="#000" stroke-width="6" stroke-linejoin="miter"/>
<polygon points="1152.2,2303.7 1166.25,2319.5 1152.2,2335.3 1138.15,2319.5" fill="#a5a5a5" stroke="#000" stroke-width="6" stroke-linejoin="miter"/>
<polygon points="1328.9,2302.6 1342.95,2318.4 1328.9,2334.2 1314.85,2318.4" fill="#a5a5a5" stroke="#000" stroke-width="6" stroke-linejoin="miter"/>
<polygon points="1500.1,2298.4 1514.15,2314.2 1500.1,2330 1486.05,2314.2" fill="#a5a5a5" stroke="#000" stroke-width="6" stroke-linejoin="miter"/>
<polygon points="1675.8,2297.4 1689.85,2313.2 1675.8,2329 1661.75,2313.2" fill="#a5a5a5" stroke="#000" stroke-width="6" stroke-linejoin="miter"/>
<polygon points="1852.4,2293.2 1866.45,2309 1852.4,2324.8 1838.35,2309" fill="#a5a5a5" stroke="#000" stroke-width="6" stroke-linejoin="miter"/>
<polyline points="282.5,2459 452.9,2451 630.1,2449 805.8,2444 977,2442 1153.2,2440 1329.9,2437 1501.1,2434 1676.8,2433 1853.4,2433" fill="none" stroke="#000" stroke-width="11.6" stroke-linecap="round" stroke-linejoin="round" stroke-dasharray="28.88 41.96"/>
<polygon points="282.5,2442.23 296.08,2472 268.92,2472" fill="#ffc000" stroke="#000" stroke-width="6" stroke-linejoin="miter" stroke-miterlimit="10"/>
<polygon points="452.9,2434.23 466.48,2464 439.32,2464" fill="#ffc000" stroke="#000" stroke-width="6" stroke-linejoin="miter" stroke-miterlimit="10"/>
<polygon points="630.1,2432.23 643.68,2462 616.52,2462" fill="#ffc000" stroke="#000" stroke-width="6" stroke-linejoin="miter" stroke-miterlimit="10"/>
<polygon points="805.8,2427.23 819.38,2457 792.22,2457" fill="#ffc000" stroke="#000" stroke-width="6" stroke-linejoin="miter" stroke-miterlimit="10"/>
<polygon points="977,2425.23 990.58,2455 963.42,2455" fill="#ffc000" stroke="#000" stroke-width="6" stroke-linejoin="miter" stroke-miterlimit="10"/>
<polygon points="1153.2,2423.23 1166.78,2453 1139.62,2453" fill="#ffc000" stroke="#000" stroke-width="6" stroke-linejoin="miter" stroke-miterlimit="10"/>
<polygon points="1329.9,2420.23 1343.48,2450 1316.32,2450" fill="#ffc000" stroke="#000" stroke-width="6" stroke-linejoin="miter" stroke-miterlimit="10"/>
<polygon points="1501.1,2417.23 1514.68,2447 1487.52,2447" fill="#ffc000" stroke="#000" stroke-width="6" stroke-linejoin="miter" stroke-miterlimit="10"/>
<polygon points="1676.8,2416.23 1690.38,2446 1663.22,2446" fill="#ffc000" stroke="#000" stroke-width="6" stroke-linejoin="miter" stroke-miterlimit="10"/>
<polygon points="1853.4,2416.23 1866.98,2446 1839.82,2446" fill="#ffc000" stroke="#000" stroke-width="6" stroke-linejoin="miter" stroke-miterlimit="10"/>
<polyline points="282.5,2501 452.9,2486 630.1,2483 805.8,2480 977,2477 1153.2,2474 1329.9,2474 1501.1,2475 1676.8,2469 1853.4,2469" fill="none" stroke="#000" stroke-width="11.6" stroke-linecap="round" stroke-linejoin="round" stroke-dasharray="28.88 41.96 0.01 40.47"/>
<path d="M266.7 2487.45L298.3 2522.55M266.7 2522.55L298.3 2487.45" fill="none" stroke="#000" stroke-width="7" stroke-linecap="butt"/>
<path d="M437.1 2472.45L468.7 2507.55M437.1 2507.55L468.7 2472.45" fill="none" stroke="#000" stroke-width="7" stroke-linecap="butt"/>
<path d="M614.3 2469.45L645.9 2504.55M614.3 2504.55L645.9 2469.45" fill="none" stroke="#000" stroke-width="7" stroke-linecap="butt"/>
<path d="M790 2466.45L821.6 2501.55M790 2501.55L821.6 2466.45" fill="none" stroke="#000" stroke-width="7" stroke-linecap="butt"/>
<path d="M961.2 2463.45L992.8 2498.55M961.2 2498.55L992.8 2463.45" fill="none" stroke="#000" stroke-width="7" stroke-linecap="butt"/>
<path d="M1137.4 2460.45L1169 2495.55M1137.4 2495.55L1169 2460.45" fill="none" stroke="#000" stroke-width="7" stroke-linecap="butt"/>
<path d="M1314.1 2460.45L1345.7 2495.55M1314.1 2495.55L1345.7 2460.45" fill="none" stroke="#000" stroke-width="7" stroke-linecap="butt"/>
<path d="M1485.3 2461.45L1516.9 2496.55M1485.3 2496.55L1516.9 2461.45" fill="none" stroke="#000" stroke-width="7" stroke-linecap="butt"/>
<path d="M1661 2455.45L1692.6 2490.55M1661 2490.55L1692.6 2455.45" fill="none" stroke="#000" stroke-width="7" stroke-linecap="butt"/>
<path d="M1837.6 2455.45L1869.2 2490.55M1837.6 2490.55L1869.2 2455.45" fill="none" stroke="#000" stroke-width="7" stroke-linecap="butt"/>
<polyline points="282.5,2473 452.9,2474.5 630.1,2474 805.8,2470 977,2468 1153.2,2467 1329.9,2466 1501.1,2465 1676.8,2464 1853.4,2463" fill="none" stroke="#000" stroke-width="11.6" stroke-linecap="round" stroke-linejoin="round" stroke-dasharray="69.36 41.96"/>
<path d="M266.7 2456.45L298.3 2491.55M266.7 2491.55L298.3 2456.45M282.5 2454L282.5 2494" fill="none" stroke="#000" stroke-width="7" stroke-linecap="butt"/>
<path d="M437.1 2457.95L468.7 2493.05M437.1 2493.05L468.7 2457.95M452.9 2455.5L452.9 2495.5" fill="none" stroke="#000" stroke-width="7" stroke-linecap="butt"/>
<path d="M614.3 2457.45L645.9 2492.55M614.3 2492.55L645.9 2457.45M630.1 2455L630.1 2495" fill="none" stroke="#000" stroke-width="7" stroke-linecap="butt"/>
<path d="M790 2453.45L821.6 2488.55M790 2488.55L821.6 2453.45M805.8 2451L805.8 2491" fill="none" stroke="#000" stroke-width="7" stroke-linecap="butt"/>
<path d="M961.2 2451.45L992.8 2486.55M961.2 2486.55L992.8 2451.45M977 2449L977 2489" fill="none" stroke="#000" stroke-width="7" stroke-linecap="butt"/>
<path d="M1137.4 2450.45L1169 2485.55M1137.4 2485.55L1169 2450.45M1153.2 2448L1153.2 2488" fill="none" stroke="#000" stroke-width="7" stroke-linecap="butt"/>
<path d="M1314.1 2449.45L1345.7 2484.55M1314.1 2484.55L1345.7 2449.45M1329.9 2447L1329.9 2487" fill="none" stroke="#000" stroke-width="7" stroke-linecap="butt"/>
<path d="M1485.3 2448.45L1516.9 2483.55M1485.3 2483.55L1516.9 2448.45M1501.1 2446L1501.1 2486" fill="none" stroke="#000" stroke-width="7" stroke-linecap="butt"/>
<path d="M1661 2447.45L1692.6 2482.55M1661 2482.55L1692.6 2447.45M1676.8 2445L1676.8 2485" fill="none" stroke="#000" stroke-width="7" stroke-linecap="butt"/>
<path d="M1837.6 2446.45L1869.2 2481.55M1837.6 2481.55L1869.2 2446.45M1853.4 2444L1853.4 2484" fill="none" stroke="#000" stroke-width="7" stroke-linecap="butt"/>
<polyline points="282.5,2566 452.9,2554 630.1,2549 805.8,2548 977,2544 1153.2,2544 1329.9,2543 1501.1,2543 1676.8,2538 1853.4,2537" fill="none" stroke="#000" stroke-width="11.6" stroke-linecap="round" stroke-linejoin="round" stroke-dasharray="69.36 41.96 0.01 40.47"/>
<rect x="277.02" y="2560" width="23.73" height="12" fill="#ff0000"/>
<rect x="447.42" y="2548" width="23.73" height="12" fill="#ff0000"/>
<rect x="624.62" y="2543" width="23.73" height="12" fill="#ff0000"/>
<rect x="800.32" y="2542" width="23.73" height="12" fill="#ff0000"/>
<rect x="971.52" y="2538" width="23.73" height="12" fill="#ff0000"/>
<rect x="1147.73" y="2538" width="23.73" height="12" fill="#ff0000"/>
<rect x="1324.43" y="2537" width="23.73" height="12" fill="#ff0000"/>
<rect x="1495.62" y="2537" width="23.73" height="12" fill="#ff0000"/>
<rect x="1671.33" y="2532" width="23.73" height="12" fill="#ff0000"/>
<rect x="1847.93" y="2531" width="23.73" height="12" fill="#ff0000"/>
<polyline points="282.5,2566 452.9,2560 630.1,2559 805.8,2558 977,2554 1153.2,2554 1329.9,2554 1501.1,2554 1676.8,2554 1853.4,2554" fill="none" stroke="#000" stroke-width="11.6" stroke-linecap="round" stroke-linejoin="round" stroke-dasharray="69.36 41.96 0.01 40.47 0.01 40.47"/>
<rect x="264.25" y="2560" width="36.5" height="12" fill="#ff0000"/>
<rect x="434.65" y="2554" width="36.5" height="12" fill="#ff0000"/>
<rect x="611.85" y="2553" width="36.5" height="12" fill="#ff0000"/>
<rect x="787.55" y="2552" width="36.5" height="12" fill="#ff0000"/>
<rect x="958.75" y="2548" width="36.5" height="12" fill="#ff0000"/>
<rect x="1134.95" y="2548" width="36.5" height="12" fill="#ff0000"/>
<rect x="1311.65" y="2548" width="36.5" height="12" fill="#ff0000"/>
<rect x="1482.85" y="2548" width="36.5" height="12" fill="#ff0000"/>
<rect x="1658.55" y="2548" width="36.5" height="12" fill="#ff0000"/>
<rect x="1835.15" y="2548" width="36.5" height="12" fill="#ff0000"/>
<polyline points="282.5,2598 452.9,2589 630.1,2588 805.8,2587 977,2586 1153.2,2586 1329.9,2585 1501.1,2584 1676.8,2583 1853.4,2583" fill="none" stroke="#000" stroke-width="11" stroke-linecap="round" stroke-linejoin="round" stroke-dasharray="0.01 20.23"/>
<path d="M264.25 2594.9L300.75 2594.9M282.5 2580.4L282.5 2620.4" fill="none" stroke="#000" stroke-width="7"/>
<path d="M434.65 2585.9L471.15 2585.9M452.9 2571.4L452.9 2611.4" fill="none" stroke="#000" stroke-width="7"/>
<path d="M611.85 2584.9L648.35 2584.9M630.1 2570.4L630.1 2610.4" fill="none" stroke="#000" stroke-width="7"/>
<path d="M787.55 2583.9L824.05 2583.9M805.8 2569.4L805.8 2609.4" fill="none" stroke="#000" stroke-width="7"/>
<path d="M958.75 2582.9L995.25 2582.9M977 2568.4L977 2608.4" fill="none" stroke="#000" stroke-width="7"/>
<path d="M1134.95 2582.9L1171.45 2582.9M1153.2 2568.4L1153.2 2608.4" fill="none" stroke="#000" stroke-width="7"/>
<path d="M1311.65 2581.9L1348.15 2581.9M1329.9 2567.4L1329.9 2607.4" fill="none" stroke="#000" stroke-width="7"/>
<path d="M1482.85 2580.9L1519.35 2580.9M1501.1 2566.4L1501.1 2606.4" fill="none" stroke="#000" stroke-width="7"/>
<path d="M1658.55 2579.9L1695.05 2579.9M1676.8 2565.4L1676.8 2605.4" fill="none" stroke="#000" stroke-width="7"/>
<path d="M1835.15 2579.9L1871.65 2579.9M1853.4 2565.4L1853.4 2605.4" fill="none" stroke="#000" stroke-width="7"/>
<polyline points="282.5,2619 452.9,2604 630.1,2604 805.8,2603 977,2602 1153.2,2601 1329.9,2599 1501.1,2598 1676.8,2597 1853.4,2597" fill="none" stroke="#000" stroke-width="11" stroke-linecap="round" stroke-linejoin="round" stroke-dasharray="0.01 20.23"/>
<rect x="267.75" y="2600.2" width="29.5" height="33" fill="none" stroke="#000" stroke-width="7"/>
<rect x="438.15" y="2585.2" width="29.5" height="33" fill="none" stroke="#000" stroke-width="7"/>
<rect x="615.35" y="2585.2" width="29.5" height="33" fill="none" stroke="#000" stroke-width="7"/>
<rect x="791.05" y="2584.2" width="29.5" height="33" fill="none" stroke="#000" stroke-width="7"/>
<rect x="962.25" y="2583.2" width="29.5" height="33" fill="none" stroke="#000" stroke-width="7"/>
<rect x="1138.45" y="2582.2" width="29.5" height="33" fill="none" stroke="#000" stroke-width="7"/>
<rect x="1315.15" y="2580.2" width="29.5" height="33" fill="none" stroke="#000" stroke-width="7"/>
<rect x="1486.35" y="2579.2" width="29.5" height="33" fill="none" stroke="#000" stroke-width="7"/>
<rect x="1662.05" y="2578.2" width="29.5" height="33" fill="none" stroke="#000" stroke-width="7"/>
<rect x="1838.65" y="2578.2" width="29.5" height="33" fill="none" stroke="#000" stroke-width="7"/>
<polyline points="282.5,2620 452.9,2617 630.1,2614 805.8,2613 977,2613 1153.2,2613 1329.9,2612.5 1501.1,2612.5 1676.8,2612.5 1853.4,2612.5" fill="none" stroke="#000" stroke-width="11.6" stroke-linecap="round" stroke-linejoin="round" stroke-dasharray="28.88 41.96 0.01 40.47"/>
<polygon points="282.5,2608.43 295.31,2636.5 269.69,2636.5" fill="none" stroke="#000" stroke-width="7" stroke-linejoin="miter" stroke-miterlimit="10"/>
<polygon points="452.9,2605.43 465.71,2633.5 440.09,2633.5" fill="none" stroke="#000" stroke-width="7" stroke-linejoin="miter" stroke-miterlimit="10"/>
<polygon points="630.1,2602.43 642.91,2630.5 617.29,2630.5" fill="none" stroke="#000" stroke-width="7" stroke-linejoin="miter" stroke-miterlimit="10"/>
<polygon points="805.8,2601.43 818.61,2629.5 792.99,2629.5" fill="none" stroke="#000" stroke-width="7" stroke-linejoin="miter" stroke-miterlimit="10"/>
<polygon points="977,2601.43 989.81,2629.5 964.19,2629.5" fill="none" stroke="#000" stroke-width="7" stroke-linejoin="miter" stroke-miterlimit="10"/>
<polygon points="1153.2,2601.43 1166.01,2629.5 1140.39,2629.5" fill="none" stroke="#000" stroke-width="7" stroke-linejoin="miter" stroke-miterlimit="10"/>
<polygon points="1329.9,2600.93 1342.71,2629 1317.09,2629" fill="none" stroke="#000" stroke-width="7" stroke-linejoin="miter" stroke-miterlimit="10"/>
<polygon points="1501.1,2600.93 1513.91,2629 1488.29,2629" fill="none" stroke="#000" stroke-width="7" stroke-linejoin="miter" stroke-miterlimit="10"/>
<polygon points="1676.8,2600.93 1689.61,2629 1663.99,2629" fill="none" stroke="#000" stroke-width="7" stroke-linejoin="miter" stroke-miterlimit="10"/>
<polygon points="1853.4,2600.93 1866.21,2629 1840.59,2629" fill="none" stroke="#000" stroke-width="7" stroke-linejoin="miter" stroke-miterlimit="10"/>
<line x1="1992.3" y1="1991" x2="2163.2" y2="1991" stroke="#000" stroke-width="11.6" stroke-linecap="round"/>
<ellipse cx="2077.6" cy="1996.5" rx="15.25" ry="17" fill="#5b9bd5" stroke="#000" stroke-width="6"/>
<text transform="translate(2185.5 2016) scale(1 1.1)" font-family="'Liberation Serif',serif" font-weight="bold" font-size="61.6" text-anchor="start">0-5</text>
<line x1="1992" y1="2106.7" x2="2163.5" y2="2106.7" stroke="#000" stroke-width="11" stroke-linecap="round" stroke-dasharray="0.01 20.23"/>
<rect x="2060.15" y="2092.5" width="30.5" height="34" fill="#ed7d31" stroke="#000" stroke-width="6"/>
<text transform="translate(2185.5 2131.7) scale(1 1.1)" font-family="'Liberation Serif',serif" font-weight="bold" font-size="61.6" text-anchor="start">5-10</text>
<line x1="1992.3" y1="2228.5" x2="2163.2" y2="2228.5" stroke="#000" stroke-width="11.6" stroke-linecap="round" stroke-dasharray="18.76 21.72"/>
<polygon points="2075.4,2209.9 2089.45,2225.7 2075.4,2241.5 2061.35,2225.7" fill="#a5a5a5" stroke="#000" stroke-width="6" stroke-linejoin="miter"/>
<text transform="translate(2185.5 2253.5) scale(1 1.1)" font-family="'Liberation Serif',serif" font-weight="bold" font-size="61.6" text-anchor="start">10-15</text>
<line x1="1992.3" y1="2345" x2="2163.2" y2="2345" stroke="#000" stroke-width="11.6" stroke-linecap="round" stroke-dasharray="28.88 41.96"/>
<polygon points="2075.4,2329.43 2088.98,2359.2 2061.82,2359.2" fill="#ffc000" stroke="#000" stroke-width="6" stroke-linejoin="miter" stroke-miterlimit="10"/>
<text transform="translate(2185.5 2370) scale(1 1.1)" font-family="'Liberation Serif',serif" font-weight="bold" font-size="61.6" text-anchor="start">15-20</text>
<line x1="1992.3" y1="2460.6" x2="2163.2" y2="2460.6" stroke="#000" stroke-width="11.6" stroke-linecap="round" stroke-dasharray="28.88 41.96 0.01 40.47"/>
<path d="M2061.8 2443.05L2093.4 2478.15M2061.8 2478.15L2093.4 2443.05" fill="none" stroke="#000" stroke-width="7" stroke-linecap="butt"/>
<text transform="translate(2185.5 2485.6) scale(1 1.1)" font-family="'Liberation Serif',serif" font-weight="bold" font-size="61.6" text-anchor="start">20-25</text>
<line x1="1992.3" y1="2576.3" x2="2163.2" y2="2576.3" stroke="#000" stroke-width="11.6" stroke-linecap="round" stroke-dasharray="69.36 41.96"/>
<path d="M2059.6 2564.35L2091.2 2599.45M2059.6 2599.45L2091.2 2564.35M2075.4 2561.9L2075.4 2601.9" fill="none" stroke="#000" stroke-width="7" stroke-linecap="butt"/>
<text transform="translate(2185.5 2601.3) scale(1 1.1)" font-family="'Liberation Serif',serif" font-weight="bold" font-size="61.6" text-anchor="start">25-30</text>
<line x1="1992.3" y1="2692.8" x2="2163.2" y2="2692.8" stroke="#000" stroke-width="11.6" stroke-linecap="round" stroke-dasharray="69.36 41.96 0.01 40.47"/>
<rect x="2069.93" y="2686.8" width="23.73" height="12" fill="#ff0000"/>
<text transform="translate(2185.5 2717.8) scale(1 1.1)" font-family="'Liberation Serif',serif" font-weight="bold" font-size="61.6" text-anchor="start">30-35</text>
<line x1="1992.3" y1="2809" x2="2163.2" y2="2809" stroke="#000" stroke-width="11.6" stroke-linecap="round" stroke-dasharray="69.36 41.96 0.01 40.47 0.01 40.47"/>
<rect x="2057.15" y="2803" width="36.5" height="12" fill="#ff0000"/>
<text transform="translate(2185.5 2834) scale(1 1.1)" font-family="'Liberation Serif',serif" font-weight="bold" font-size="61.6" text-anchor="start">35-40</text>
<line x1="1992" y1="2924.6" x2="2163.5" y2="2924.6" stroke="#000" stroke-width="11" stroke-linecap="round" stroke-dasharray="0.01 20.23"/>
<path d="M2057.15 2925.1L2093.65 2925.1M2075.4 2910.6L2075.4 2950.6" fill="none" stroke="#000" stroke-width="7"/>
<text transform="translate(2185.5 2949.6) scale(1 1.1)" font-family="'Liberation Serif',serif" font-weight="bold" font-size="61.6" text-anchor="start">40-45</text>
<line x1="1992" y1="3045.5" x2="2163.5" y2="3045.5" stroke="#000" stroke-width="11" stroke-linecap="round" stroke-dasharray="0.01 20.23"/>
<rect x="2060.65" y="3027.4" width="29.5" height="33" fill="none" stroke="#000" stroke-width="7"/>
<text transform="translate(2185.5 3070.5) scale(1 1.1)" font-family="'Liberation Serif',serif" font-weight="bold" font-size="61.6" text-anchor="start">45-51</text>
<line x1="1992.3" y1="3162.4" x2="2163.2" y2="3162.4" stroke="#000" stroke-width="11.6" stroke-linecap="round" stroke-dasharray="28.88 41.96 0.01 40.47"/>
<polygon points="2075.4,3148.23 2088.21,3176.3 2062.59,3176.3" fill="none" stroke="#000" stroke-width="7" stroke-linejoin="miter" stroke-miterlimit="10"/>
<text transform="translate(2185.5 3187.4) scale(1 1.1)" font-family="'Liberation Serif',serif" font-weight="bold" font-size="61.6" text-anchor="start">51-56</text>
</g>
</svg></body></html>
